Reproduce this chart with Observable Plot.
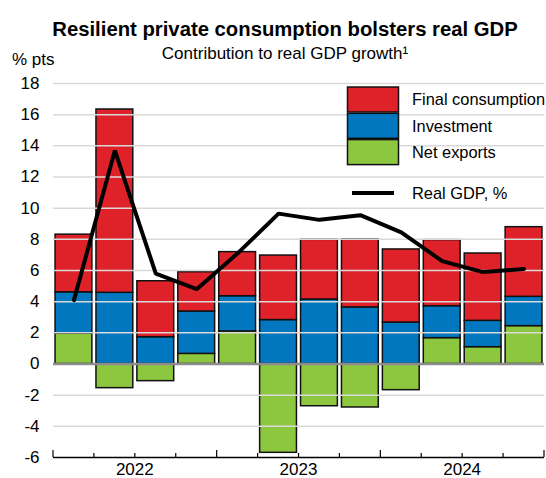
<!DOCTYPE html>
<html>
<head>
<meta charset="utf-8">
<script src="https://cdn.jsdelivr.net/npm/d3@7"></script>
<script src="https://cdn.jsdelivr.net/npm/@observablehq/plot@0.6"></script>
<style>
  body { margin: 0; background: #fff; font-family: "Liberation Sans", Arial, sans-serif; }
  #wrap { position: relative; width: 546px; height: 478px; overflow: hidden; }
  .t { position: absolute; white-space: nowrap; line-height: 1; color: #000; }
  #title { top: 18.5px; left: 0; width: 570px; text-align: center; font-size: 20.3px; font-weight: bold; }
  #subtitle { top: 44.5px; left: 0; width: 570px; text-align: center; font-size: 17px; }
  #unit { top: 51px; left: 12px; font-size: 17px; }
  #chart { position: absolute; top: 0; left: 0; }
</style>
</head>
<body>
<div id="wrap">
  <div id="chart"></div>
  <div class="t" id="title">Resilient private consumption bolsters real GDP</div>
  <div class="t" id="subtitle">Contribution to real GDP growth¹</div>
  <div class="t" id="unit">% pts</div>
</div>
<script>
const quarters = ["2022 Q1","2022 Q2","2022 Q3","2022 Q4","2023 Q1","2023 Q2","2023 Q3","2023 Q4","2024 Q1","2024 Q2","2024 Q3","2024 Q4"];
const years = ["2022","2023","2024"];
const netExports = [1.95, -1.55, -1.1, 0.65, 2.09, -5.7, -2.71, -2.79, -1.68, 1.66, 1.08, 2.43];
const investment = [2.65, 4.57, 1.72, 2.72, 2.26, 2.82, 4.14, 3.63, 2.66, 2.05, 1.69, 1.88];
const finalConsumption = [3.7, 11.76, 3.59, 2.52, 2.83, 4.14, 3.83, 4.36, 4.69, 4.24, 4.32, 4.47];
const realGDP = [4.1, 13.7, 5.8, 4.8, 7.1, 9.65, 9.25, 9.55, 8.45, 6.6, 5.9, 6.1];
const seriesNames = ["Final consumption", "Investment", "Net exports"];
const seriesColors = ["#df2229", "#0077bf", "#8dc63f"];
const lineLabel = "Real GDP, %";
const yTicks = [-6,-4,-2,0,2,4,6,8,10,12,14,16,18];

const bars = [];
quarters.forEach((q, i) => {
  bars.push({q, series: "Net exports", v: netExports[i]});
  bars.push({q, series: "Investment", v: investment[i]});
  bars.push({q, series: "Final consumption", v: finalConsumption[i]});
});
const gdp = quarters.map((q, i) => ({q, v: realGDP[i]}));

const plot = Plot.plot({
  width: 546, height: 478,
  marginTop: 83, marginBottom: 21, marginLeft: 53, marginRight: 2,
  style: {fontFamily: "Liberation Sans, Arial, sans-serif", fontSize: "17px", color: "#000", background: "#fff"},
  x: {type: "band", domain: quarters, paddingInner: 0.1, paddingOuter: 0.05, round: false, axis: null},
  y: {domain: [-6, 18], axis: null},
  color: {domain: seriesNames, range: seriesColors},
  marks: [
    Plot.barY(bars, {x: "q", y: "v", fill: "series", stroke: "#111", strokeWidth: 1.5}),
    Plot.ruleY(yTicks.filter(d => d !== 0 && d !== -6), {stroke: "#d9d9d9", strokeWidth: 1.5}),
    Plot.ruleY([0], {stroke: "#8c8c8c", strokeWidth: 2.5}),
    Plot.lineY(gdp, {x: "q", y: "v", stroke: "#000", strokeWidth: 4, strokeLinejoin: "miter"}),
    Plot.ruleY([-6], {stroke: "#000", strokeWidth: 1.5}),
    Plot.text(yTicks, {y: d => d, text: d => String(d), frameAnchor: "left", textAnchor: "end", dx: -14, fontSize: 17, fill: "#000"})
  ]
});
document.getElementById("chart").appendChild(plot);

// custom x axis ticks at quarter boundaries and year labels
const xs = plot.scale("x");
const ys = plot.scale("y");
const step = xs.step, bw = xs.bandwidth;
const x0 = xs.apply(quarters[0]) - (step - bw) / 2;
const yAxis = ys.apply(-6);
const svg = d3.select(plot);
const g = svg.append("g");
for (let k = 0; k <= quarters.length; k++) {
  const tall = k % 4 === 0;
  g.append("line")
    .attr("x1", x0 + k * step).attr("x2", x0 + k * step)
    .attr("y1", yAxis).attr("y2", yAxis - (tall ? 7 : 4))
    .attr("stroke", "#000").attr("stroke-width", 1.2);
}
years.forEach((yr, j) => {
  g.append("text")
    .attr("x", x0 + (j * 4 + 2) * step).attr("y", 475)
    .attr("text-anchor", "middle").attr("font-size", 17).attr("fill", "#000")
    .text(yr);
});

// legend
const lg = svg.append("g").attr("text-anchor", "start");
seriesNames.forEach((name, i) => {
  const top = 87 + i * 26.3;
  lg.append("rect").attr("x", 347.5).attr("y", top).attr("width", 51).attr("height", 25)
    .attr("fill", seriesColors[i]).attr("stroke", "#111").attr("stroke-width", 1.5);
  lg.append("text").attr("x", 412).attr("y", top + 12.5).attr("dy", "0.35em")
    .attr("font-size", 16.4).attr("fill", "#000").text(name);
});
lg.append("line").attr("x1", 352).attr("x2", 394).attr("y1", 193).attr("y2", 193)
  .attr("stroke", "#000").attr("stroke-width", 4);
lg.append("text").attr("x", 412).attr("y", 193).attr("dy", "0.35em")
  .attr("font-size", 16.4).attr("fill", "#000").text(lineLabel);
</script>
</body>
</html>
